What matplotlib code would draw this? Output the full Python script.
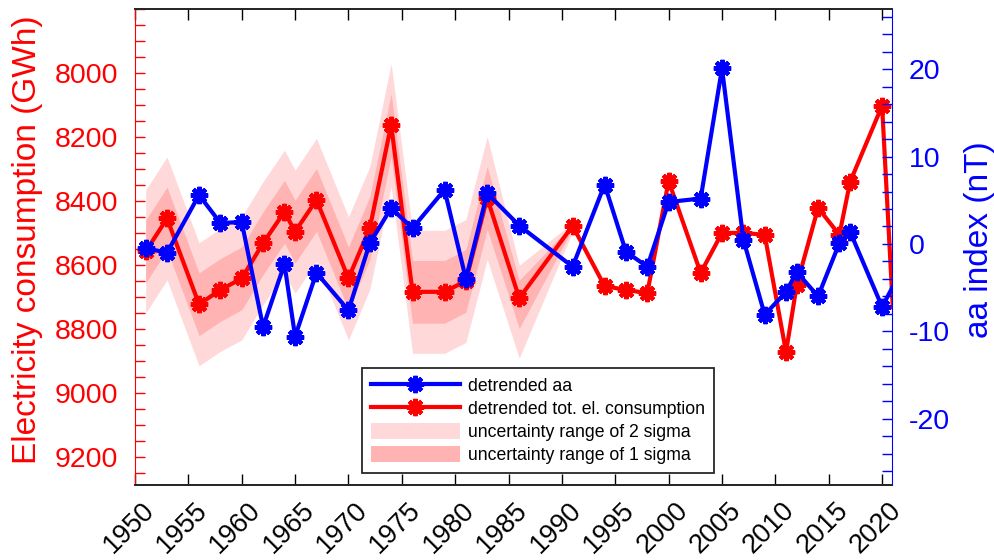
import matplotlib.pyplot as plt
from matplotlib.ticker import MultipleLocator
from matplotlib.lines import Line2D
from matplotlib.patches import Patch
import matplotlib.transforms as mtransforms

plt.rcParams['font.family'] = ['Liberation Sans', 'DejaVu Sans']
plt.rcParams['axes.unicode_minus'] = False

# data
years = [1951, 1953, 1956, 1958, 1960, 1962, 1964, 1965, 1967, 1970, 1972, 1974,
         1976, 1979, 1981, 1983, 1986, 1991, 1994, 1996, 1998, 2000, 2003, 2005,
         2007, 2009, 2011, 2012, 2014, 2016, 2017, 2020, 2021]
elec = [8557, 8454, 8722, 8677, 8641, 8531, 8433, 8495, 8396, 8641, 8484, 8162,
        8683, 8683, 8649, 8390, 8703, 8477, 8665, 8677, 8687, 8337, 8624, 8499,
        8499, 8505, 8871, 8662, 8421, 8505, 8340, 8102, 8730]
aa = [-0.5, -1.0, 5.6, 2.4, 2.5, -9.5, -2.3, -10.6, -3.3, -7.6, 0.1, 4.1,
      1.8, 6.2, -4.0, 5.8, 2.1, -2.6, 6.8, -0.9, -2.6, 4.8, 5.2, 20.1,
      0.5, -8.1, -5.5, -3.2, -6.0, 0.1, 1.4, -7.2, -4.9]

# uncertainty band (first 18 years, 1951-1991), deviations from the red curve in GWh
n_band = 18
sig2_up = [192, 192, 192, 192, 192, 192, 192, 192, 192, 192, 192, 192, 192, 192, 192, 192, 103, 10]
sig2_dn = [192, 192, 192, 192, 192, 192, 192, 192, 192, 192, 192, 192, 192, 192, 192, 192, 187, 18]
sig1_up = [98, 98, 98, 98, 98, 98, 98, 98, 98, 98, 98, 98, 98, 98, 98, 98, 56, 5]
sig1_dn = [98, 98, 98, 98, 98, 98, 98, 98, 98, 98, 98, 98, 98, 98, 98, 98, 94, 9]

band_years = years[:n_band]
band_mid = elec[:n_band]
hi2 = [m - u for m, u in zip(band_mid, sig2_up)]
lo2 = [m + d for m, d in zip(band_mid, sig2_dn)]
hi1 = [m - u for m, u in zip(band_mid, sig1_up)]
lo1 = [m + d for m, d in zip(band_mid, sig1_dn)]

light = '#FFD9D9'
dark = '#FFB3B3'
star = (8, 2, 0)
ms, mew = 12.5, 3.0
frame = '#262626'
fs = 20.5

fig = plt.figure(figsize=(9.95, 5.6), dpi=100)
ax = fig.add_axes([0.1357, 0.1339, 0.7608, 0.8501])

ax.fill_between(band_years, lo2, hi2, color=light, lw=0)
ax.fill_between(band_years, lo1, hi1, color=dark, lw=0)
ax.plot(years, elec, color='red', lw=3, marker=star, ms=ms, mew=mew,
        markevery=list(range(len(years) - 1)))

ax.set_xlim(1950, 2020.93)
ax.set_ylim(9286, 7800)
ax.set_yticks(range(8000, 9201, 200))
ax.yaxis.set_minor_locator(MultipleLocator(50))
ax.set_xticks(range(1950, 2021, 5))
ax.tick_params(axis='y', which='both', direction='in', colors='red', labelsize=fs,
               length=7, width=1, pad=12)
ax.tick_params(axis='x', direction='in', top=True, length=8, width=1, labelsize=19.5,
               colors='black', pad=9)
plt.setp(ax.get_xticklabels(), rotation=45, ha='right', rotation_mode='anchor')
offset = mtransforms.ScaledTranslation(6 / 100, 0, fig.dpi_scale_trans)
for lab in ax.get_xticklabels():
    lab.set_transform(lab.get_transform() + offset)
ax.set_ylabel('Electricity consumption (GWh)', color='red', fontsize=24)
ax.yaxis.set_label_coords(-0.1215, 0.515)

ax2 = ax.twinx()
ax2.plot(years, aa, color='blue', lw=3, marker=star, ms=ms, mew=mew,
         markevery=list(range(len(years) - 1)))
ax2.set_ylim(-27.6, 26.9)
ax2.set_yticks([-20, -10, 0, 10, 20])
ax2.yaxis.set_minor_locator(MultipleLocator(2))
ax2.tick_params(axis='y', which='both', direction='in', colors='blue', labelsize=fs,
                length=7, width=1, pad=12)
ax2.set_ylabel('aa index (nT)', color='blue', fontsize=24)
ax2.yaxis.set_label_coords(1.0955, 0.515)

for a in (ax, ax2):
    a.spines['top'].set_color(frame)
    a.spines['bottom'].set_color(frame)
    a.spines['top'].set_linewidth(1.3)
    a.spines['bottom'].set_linewidth(1.3)
ax.spines['left'].set_color('red')
ax.spines['right'].set_visible(False)
ax2.spines['left'].set_visible(False)
ax2.spines['right'].set_color('blue')

handles = [
    Line2D([], [], color='blue', lw=3, marker=star, ms=ms, mew=mew),
    Line2D([], [], color='red', lw=3, marker=star, ms=ms, mew=mew),
    Patch(facecolor=light, edgecolor='none'),
    Patch(facecolor=dark, edgecolor='none'),
]
labels = ['detrended aa', 'detrended tot. el. consumption',
          'uncertainty range of 2 sigma', 'uncertainty range of 1 sigma']
leg = ax2.legend(handles, labels, loc='upper left', bbox_to_anchor=(362 / 995, 1 - 368 / 560),
                 bbox_transform=fig.transFigure, borderaxespad=0, fontsize=12.7,
                 handlelength=5.05, handleheight=1.0, handletextpad=0.45,
                 labelspacing=0.3, borderpad=0.5, numpoints=1,
                 fancybox=False, framealpha=1, edgecolor=frame)
leg.get_frame().set_linewidth(1.3)

fig.savefig('out.png', dpi=100)
